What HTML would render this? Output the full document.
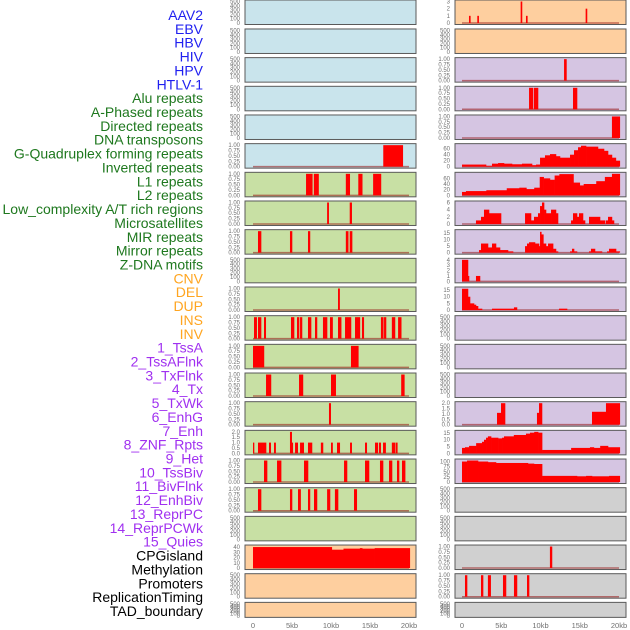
<!DOCTYPE html>
<html><head><meta charset="utf-8"><style>
html,body{margin:0;padding:0;background:#fff;}
svg{display:block;font-family:"Liberation Sans",sans-serif;}
</style></head><body>
<svg id="chart" width="630" height="630" viewBox="0 0 630 630" xmlns="http://www.w3.org/2000/svg"></svg>
<script>
const trackLabels = ["AAV2","EBV","HBV","HIV","HPV","HTLV-1","Alu repeats","A-Phased repeats","Directed repeats","DNA transposons","G-Quadruplex forming repeats","Inverted repeats","L1 repeats","L2 repeats","Low_complexity A/T rich regions","Microsatellites","MIR repeats","Mirror repeats","Z-DNA motifs","CNV","DEL","DUP","INS","INV","1_TssA","2_TssAFlnk","3_TxFlnk","4_Tx","5_TxWk","6_EnhG","7_Enh","8_ZNF_Rpts","9_Het","10_TssBiv","11_BivFlnk","12_EnhBiv","13_ReprPC","14_ReprPCWk","15_Quies","CPGisland","Methylation","Promoters","ReplicationTiming","TAD_boundary"];
const trackGroups = ["virus","virus","virus","virus","virus","virus","repeat","repeat","repeat","repeat","repeat","repeat","repeat","repeat","repeat","repeat","repeat","repeat","repeat","sv","sv","sv","sv","sv","chrom","chrom","chrom","chrom","chrom","chrom","chrom","chrom","chrom","chrom","chrom","chrom","chrom","chrom","chrom","other","other","other","other","other"];
const trackYMax = [500,500,500,500,500,1,1,1,1,500,1,1,1,1,1,2,1,1,500,41,500,500,3,500,1,1,1,72,76,6,16.5,4,16.2,500,500,500,2,15.8,105,500,500,1,1,500];
const trackTicks = [
 [0,100,200,300,400,500],[0,100,200,300,400,500],[0,100,200,300,400,500],[0,100,200,300,400,500],[0,100,200,300,400,500],
 [0,0.25,0.5,0.75,1],[0,0.25,0.5,0.75,1],[0,0.25,0.5,0.75,1],[0,0.25,0.5,0.75,1],[0,100,200,300,400,500],
 [0,0.25,0.5,0.75,1],[0,0.25,0.5,0.75,1],[0,0.25,0.5,0.75,1],[0,0.25,0.5,0.75,1],[0,0.25,0.5,0.75,1],
 [0,0.5,1,1.5,2],[0,0.25,0.5,0.75,1],[0,0.25,0.5,0.75,1],[0,100,200,300,400,500],[0,10,20,30,40],
 [0,100,200,300,400,500],[0,100,200,300,400,500],
 [0,1,2,3],[0,100,200,300,400,500],[0,0.25,0.5,0.75,1],[0,0.25,0.5,0.75,1],[0,0.25,0.5,0.75,1],
 [0,20,40,60],[0,20,40,60],[0,2,4,6],[0,5,10,15],[0,1,2,3,4],[0,5,10,15],
 [0,100,200,300,400,500],[0,100,200,300,400,500],[0,100,200,300,400,500],[0,0.5,1,1.5,2],[0,5,10,15],[0,25,50,75,100],
 [0,100,200,300,400,500],[0,100,200,300,400,500],[0,0.25,0.5,0.75,1],[0,0.25,0.5,0.75,1],[0,100,200,300,400,500]];
const trackTickDecimals = [0,0,0,0,0,2,2,2,2,0,2,2,2,2,2,1,2,2,0,0,0,0,0,0,2,2,2,0,0,0,0,0,0,0,0,0,1,0,0,0,0,2,2,0];
// segments: [startKb, endKb, value]
const trackSegments = [
 [],[],[],[],[],
 [[16.7,19.2,1]],
 [[6.8,7.6,1],[7.8,8.4,1],[11.9,12.4,1],[13.5,14.0,1],[15.4,16.4,1]],
 [[9.5,9.7,1],[12.4,12.65,1]],
 [[0.64,1.03,1],[4.74,5.0,1],[7.05,7.3,1],[11.9,12.2,1],[12.4,12.7,1]],
 [],
 [[10.9,11.1,1]],
 [[0.13,0.47,1],[0.64,1.03,1],[1.41,1.63,1],[4.87,5.26,1],[5.64,5.9,1],[6.03,6.28,1],[7.05,7.44,1],[7.95,8.2,1],[8.97,9.49,1],[9.87,10.2,1],[10.9,11.3,1],[11.8,12.56,1],[13.08,13.7,1],[13.97,14.2,1],[16.4,16.7,1],[16.8,17.05,1],[17.8,18.2,1],[18.6,19.0,1]],
 [[0,1.4,1],[12.56,13.5,1]],
 [[1.67,2.3,1],[5.9,6.4,1],[10.0,10.6,1],[19.0,19.4,1]],
 [[9.74,9.96,1]],
 [[0,0.13,1],[0.64,1.67,1],[2.05,2.27,1],[2.69,2.9,1],[4.74,4.96,2],[4.96,5.1,1],[5.39,5.73,1],[6.03,6.5,1],[7.05,7.56,1],[8.7,8.97,1],[10.0,10.2,1],[10.77,11.12,1],[12.44,12.65,1],[14.36,14.58,1],[15.64,16.0,1],[16.15,16.37,1],[16.67,17.0,1],[17.8,18.2,1],[18.3,18.5,1]],
 [[1.41,1.8,1],[3.08,3.6,1],[6.54,7.05,1],[11.67,12.05,1],[14.36,14.87,1],[16.28,16.67,1],[17.44,17.82,1],[18.46,18.72,1],[19.1,19.5,1]],
 [[0.64,1.03,1],[4.74,5.0,1],[5.77,6.1,1],[7.05,7.3,1],[7.82,8.2,1],[9.5,9.87,1],[10.5,10.9,1],[12.95,13.3,1]],
 [],
 [[0,10.1,40],[10.1,11.6,35],[11.6,13.7,37],[13.7,14.0,38],[14.0,15.6,37],[15.6,20.1,38]],
 [],[],
 [[0.89,1.06,1],[1.95,2.12,1],[7.47,7.64,3],[8.15,8.32,1],[15.75,15.92,2]],
 [],
 [[13.0,13.3,1]],
 [[8.54,9.04,1],[9.17,9.68,1],[14.14,14.65,1]],
 [[19.1,20.1,1]],
 [[0,3.06,7],[3.06,3.82,3],[3.82,4.59,10],[4.59,5.35,12],[5.35,6.37,10],[6.37,7.64,8],[7.64,8.92,10],[8.92,9.43,5],[9.43,9.94,7],[9.94,10.57,30],[10.57,11.21,38],[11.21,11.97,42],[11.97,12.48,35],[12.48,13.76,30],[13.76,14.27,40],[14.27,14.78,55],[14.78,15.16,65],[15.16,15.8,70],[15.8,17.32,67],[17.32,18.09,60],[18.09,18.6,53],[18.6,19.1,40],[19.1,19.6,30],[19.6,20.1,20]],
 [[0,0.5,12],[0.5,3.1,15],[3.1,5.7,18],[5.7,7.3,25],[7.3,8.2,27],[8.2,9.2,22],[9.2,9.9,27],[9.9,10.4,65],[10.4,11.2,60],[11.2,11.8,55],[11.8,12.4,70],[12.4,14.2,75],[14.2,15.0,45],[15.0,15.5,35],[15.5,17.1,40],[17.1,18.2,50],[18.2,19.1,65],[19.1,20.1,76]],
 [[1.78,2.42,1],[2.42,2.8,2],[2.8,3.44,4],[3.44,4.97,3],[8.03,8.79,3],[8.79,9.17,1],[9.17,9.68,2],[9.68,9.94,3],[9.94,10.19,5],[10.19,10.45,6],[10.45,10.7,4],[10.7,11.34,3],[11.34,11.97,4],[11.97,12.23,3],[13.89,14.14,1],[14.14,14.65,3],[14.65,14.9,2],[14.9,15.41,3],[15.41,15.67,1],[16.18,17.58,2],[17.58,18.22,1],[18.34,18.6,1],[18.6,19.1,2],[19.1,19.36,1]],
 [[2.17,2.42,2],[2.42,3.31,7],[3.31,3.82,4],[3.82,4.33,7],[4.33,4.84,4],[4.84,5.86,2],[5.86,6.5,1],[8.03,8.28,5],[8.28,8.54,7],[8.54,9.3,8],[9.3,9.81,7],[9.81,9.94,5],[9.94,10.1,16],[10.1,10.36,14],[10.36,10.7,7],[10.7,10.96,5],[10.96,11.6,7],[11.6,11.97,3],[11.97,12.23,1],[13.76,14.01,1],[14.01,14.27,3],[14.27,14.65,1],[16.18,16.43,1],[16.43,16.94,3],[16.94,17.83,1],[18.47,18.73,1],[18.73,19.62,3],[19.62,20.1,1]],
 [[0,0.76,4],[0.76,0.89,1],[1.78,2.29,1]],
 [[0,0.76,16],[0.76,1.02,10],[1.02,1.53,5],[1.53,1.78,4],[1.78,2.04,3],[2.04,2.55,1],[3.82,6.62,1],[6.62,7.0,2],[12.36,13.38,1]],
 [],[],[],
 [[4.46,4.97,1.1],[4.97,5.48,2],[9.55,9.81,1.1],[9.81,10.19,2],[16.56,18.34,1.2],[18.34,20.1,2]],
 [[0,0.38,4],[0.38,0.9,4.5],[0.9,1.8,5.5],[1.8,2.55,7.5],[2.55,2.8,8.5],[2.8,3.06,10],[3.06,3.3,11.5],[3.3,3.7,12.5],[3.7,4.6,11.5],[4.6,5.1,11],[5.1,5.35,11.5],[5.35,6.6,12.5],[6.6,8.15,13.5],[8.15,8.66,14.5],[8.66,9.2,15.2],[9.2,9.7,15.8],[9.7,10.2,15.2],[10.2,13.9,2.5],[13.9,16.3,4],[16.3,16.8,4.5],[16.8,17.6,4],[17.6,18.6,5.5],[18.6,20.1,4.5]],
 [[0,0.64,100],[0.64,2.04,105],[2.04,3.3,100],[3.3,4.33,97],[4.33,8.4,93],[8.4,9.17,90],[9.17,10.2,88],[10.2,14.65,30],[14.65,15.8,28],[15.8,16.56,30],[16.56,18.73,28],[18.73,20.1,30]],
 [],[],
 [[11.2,11.46,1]],
 [[0.38,0.64,1],[2.42,2.68,1],[3.3,3.65,1],[5.22,5.6,1],[6.62,7.0,1],[8.28,8.54,1]],
 []];
const xTickValues = [0,5,10,15,20];
const xTickLabels = ["0","5kb","10kb","15kb","20kb"];

const NS = "http://www.w3.org/2000/svg";
const svg = document.getElementById("chart");
const labelColors = {virus:"#2020f0", repeat:"#1e781e", sv:"#ffa520", chrom:"#a030f0", other:"#000"};
function mk(tag, attrs, parent){const e=document.createElementNS(NS,tag);for(const k in attrs)e.setAttribute(k,attrs[k]);(parent||svg).appendChild(e);return e;}

// left labels
trackLabels.forEach((t,i)=>{
  const e = mk("text",{x:203,y:20+i*13.86,"text-anchor":"end","font-size":"14",fill:labelColors[trackGroups[i]]});
  
  
  e.textContent = t;
});

function bgColor(i){
  const col = i<22?0:1;
  if(col===0){ if(i<6) return "#c9e4ec"; if(i<19) return "#c8e0a4"; return "#fecf9f"; }
  if(i<24) return "#fecf9f"; if(i<39) return "#d5c5e2"; return "#d0d0d0";
}

for(let i=0;i<trackLabels.length;i++){
  const col = i<22?0:1, row = i%22;
  const px = col===0?245:455, pw = 171;
  const top = row*28.67 + (row===0?0:0.3);
  const h = row===21?15:24.5;
  const x0 = col===0?253:462, xs = col===0?7.8:7.85;
  const xScale = kb => x0 + kb*xs;
  const yb = top + h - 1.5, yt = top + 1.5;
  const yScale = v => yb - (v/trackYMax[i])*(yb-yt);
  const g = mk("g",{});
  
  
  const bg = mk("rect",{x:px,y:top,width:pw,height:h,fill:bgColor(i),stroke:"#5a5a5a","stroke-width":1},g);
  
  
  // ticks
  trackTicks[i].forEach(v=>{
    const t = mk("text",{x:col===0?240:450,y:yScale(v)+2,"text-anchor":"end","font-size":"6",fill:"#707070"},g);
    
    
    t.textContent = v.toFixed(trackTickDecimals[i]);
  });
  const segs = trackSegments[i];
  if(segs.length){
    const bl = mk("line",{x1:xScale(0),x2:xScale(20),y1:yb,y2:yb,stroke:"rgba(150,20,20,0.55)","stroke-width":1.5},g);
    
    
    segs.forEach(s=>{
      const r = mk("rect",{x:xScale(s[0]),y:yScale(s[2]),width:Math.max(0.8,xScale(s[1])-xScale(s[0])+0.3),height:yb-yScale(s[2]),fill:"#ff0000"},g);
      
      
    });
  }
}
// x axes
[[253,7.8],[462,7.85]].forEach(([x0,xs])=>{
  xTickValues.forEach((v,k)=>{
    const t = mk("text",{x:x0+v*xs,y:628,"text-anchor":"middle","font-size":"7.5",fill:"#707070"});
    
    
    t.textContent = xTickLabels[k];
  });
});
</script>
</body></html>
